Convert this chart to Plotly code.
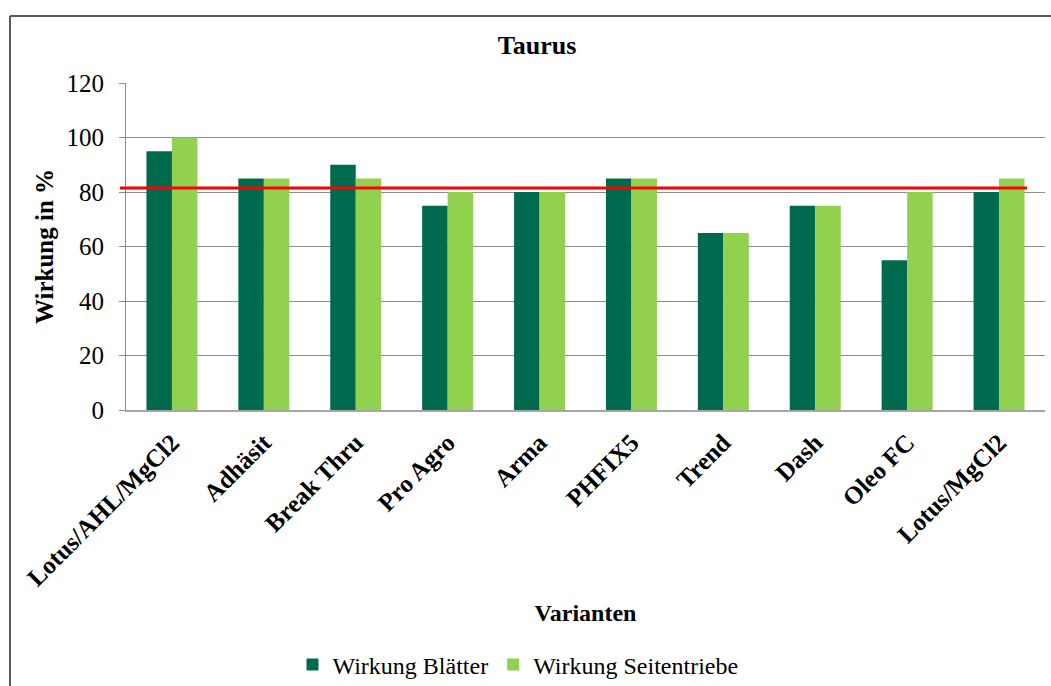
import plotly.graph_objects as go

categories = ["Lotus/AHL/MgCl2", "Adhäsit", "Break Thru", "Pro Agro", "Arma",
              "PHFIX5", "Trend", "Dash", "Oleo FC", "Lotus/MgCl2"]
wirkung_blaetter = [95, 85, 90, 75, 80, 85, 65, 75, 55, 80]
wirkung_seitentriebe = [100, 85, 85, 80, 80, 85, 65, 75, 80, 85]
reference_level = 81.5
y_ticks = [0, 20, 40, 60, 80, 100, 120]

SERIF = "Liberation Serif, Times New Roman, serif"
DARK = "#006A4E"
LIGHT = "#92D050"

fig = go.Figure()
fig.add_trace(go.Bar(x=categories, y=wirkung_blaetter, name="Wirkung Blätter",
                     marker=dict(color=DARK, line=dict(width=0))))
fig.add_trace(go.Bar(x=categories, y=wirkung_seitentriebe, name="Wirkung Seitentriebe",
                     marker=dict(color=LIGHT, line=dict(width=0))))

L, R, T, B = 126, 6, 83, 276
W, H = 1051, 686
pw, ph = W - L - R, H - T - B

def px_x(x):
    return (x - L) / pw

def px_y(y):
    return (H - B - y) / ph

# red reference line
fig.add_shape(type="line", xref="paper", yref="y",
              x0=px_x(120), x1=px_x(1027), y0=reference_level, y1=reference_level,
              line=dict(color="#FF0000", width=3), layer="above")

# outer chart border (top and left visible)
fig.add_shape(type="line", xref="paper", yref="paper",
              x0=px_x(10), x1=px_x(1060), y0=px_y(16), y1=px_y(16),
              line=dict(color="#595959", width=2))
fig.add_shape(type="line", xref="paper", yref="paper",
              x0=px_x(10), x1=px_x(10), y0=px_y(16), y1=px_y(700),
              line=dict(color="#595959", width=2))

fig.update_layout(
    width=W, height=H,
    margin=dict(l=L, r=R, t=T, b=B, autoexpand=False),
    paper_bgcolor="white", plot_bgcolor="white",
    font=dict(family=SERIF, size=24, color="black"),
    title=dict(text="<b>Taurus</b>", x=537 / W, xref="container", xanchor="center",
               y=1 - 45 / H, yref="container", yanchor="middle",
               font=dict(family=SERIF, size=26, color="black")),
    barmode="group", bargap=0.445, bargroupgap=0,
    showlegend=True,
    legend=dict(orientation="h", x=px_x(518), xanchor="center",
                y=px_y(665), yanchor="middle",
                font=dict(family=SERIF, size=24, color="black"),
                itemwidth=30, traceorder="normal"),
    yaxis=dict(range=[0, 120], tickvals=y_ticks, showgrid=True, gridcolor="#8c8c8c",
               gridwidth=1, showline=True, linecolor="#8c8c8c", linewidth=1,
               ticks="outside", ticklen=6, tickcolor="#8c8c8c",
               zeroline=False, ticklabelstandoff=10,
               tickfont=dict(family=SERIF, size=25, color="black"),
               title=dict(text="<b>Wirkung in %</b>", standoff=5,
                          font=dict(family=SERIF, size=25, color="black"))),
    xaxis=dict(showline=True, linecolor="#a6a6a6", linewidth=2, ticks="",
               tickangle=-45, showgrid=False, ticklabelstandoff=6,
               tickfont=dict(family=SERIF, size=25, color="black"),
               tickvals=categories, ticktext=["<b>%s</b>" % c for c in categories],
               title=dict(text="<b>Varianten</b>", standoff=14,
                          font=dict(family=SERIF, size=24, color="black"))),
)

fig.write_html("out.html", config={"displayModeBar": False},
               post_script="document.body.style.margin='0';")
